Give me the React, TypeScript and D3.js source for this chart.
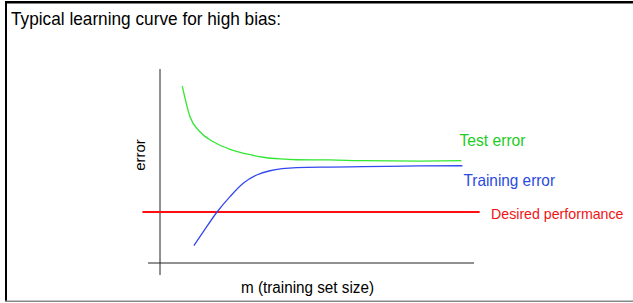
import React from "react";
import * as d3 from "d3";

const W = 633;
const H = 303;

const testM = [7.1, 9.55, 12.7, 17.0, 22.3, 27.6, 32.9, 38.2, 43.5, 54.1, 64.6, 82.8, 96.0];
const testErr = [0.917, 0.758, 0.68, 0.628, 0.589, 0.565, 0.548, 0.539, 0.535, 0.534, 0.53, 0.528, 0.53];

const trainM = [10.8, 13.8, 18.1, 22.3, 26.5, 30.8, 35.0, 43.5, 54.1, 64.6, 82.8, 96.3];
const trainErr = [0.09, 0.162, 0.263, 0.344, 0.413, 0.456, 0.478, 0.494, 0.497, 0.499, 0.503, 0.504];

const desiredM = [-5.6, 101.8];
const desiredErr = [0.264, 0.264];

const title = "Typical learning curve for high bias:";
const xLabel = "m (training set size)";
const yLabel = "error";
const labels = ["Test error", "Training error", "Desired performance"];

const FONT = "'Liberation Sans', Arial, Helvetica, sans-serif";

export default function App() {
  const x = d3.scaleLinear().domain([0, 100]).range([160, 474]);
  const y = d3.scaleLinear().domain([0, 1]).range([263, 70]);

  const line = d3
    .line<[number, number]>()
    .x((d) => x(d[0]))
    .y((d) => y(d[1]))
    .curve(d3.curveMonotoneX);

  const testPts = testM.map((m, i) => [m, testErr[i]] as [number, number]);
  const trainPts = trainM.map((m, i) => [m, trainErr[i]] as [number, number]);
  const desiredPts = desiredM.map((m, i) => [m, desiredErr[i]] as [number, number]);

  return (
    <svg
      width={W}
      height={H}
      style={{ position: "fixed", left: 0, top: 0, background: "#fff" }}
    >
      <rect x={0} y={0} width={W} height={H} fill="#fff" />
      {/* frame */}
      <line x1={5} y1={2.3} x2={W} y2={2.3} stroke="#000" strokeWidth={2.5} />
      <line x1={6} y1={1} x2={6} y2={302} stroke="#000" strokeWidth={2} />
      <line x1={5} y1={301.3} x2={W} y2={301.3} stroke="#888" strokeWidth={1.5} />

      <text
        x={11}
        y={25}
        fontFamily={FONT}
        fontSize={18.5}
        fill="#000"
        textLength={270}
        lengthAdjust="spacingAndGlyphs"
      >
        {title}
      </text>

      {/* axes */}
      <line x1={x(0)} y1={69} x2={x(0)} y2={275} stroke="#222" strokeWidth={1} />
      <line x1={148} y1={y(0)} x2={474} y2={y(0)} stroke="#222" strokeWidth={1} />

      {/* curves */}
      <path d={line(desiredPts) || ""} fill="none" stroke="#ff1010" strokeWidth={2} />
      <path d={line(testPts) || ""} fill="none" stroke="#33e633" strokeWidth={1.3} />
      <path d={line(trainPts) || ""} fill="none" stroke="#3348ee" strokeWidth={1.3} />

      {/* labels */}
      <text x={459.5} y={145.5} fontFamily={FONT} fontSize={16.5} fill="#22cc22" textLength={66} lengthAdjust="spacingAndGlyphs">
        {labels[0]}
      </text>
      <text x={463.5} y={185.5} fontFamily={FONT} fontSize={16.5} fill="#2a4ae0" textLength={91.5} lengthAdjust="spacingAndGlyphs">
        {labels[1]}
      </text>
      <text x={491} y={219} fontFamily={FONT} fontSize={14.2} fill="#f01414">
        {labels[2]}
      </text>

      <text
        transform="translate(145,155) rotate(-90)"
        textAnchor="middle"
        fontFamily={FONT}
        fontSize={15.5}
        fill="#000"
        textLength={31.5}
        lengthAdjust="spacingAndGlyphs"
      >
        {yLabel}
      </text>
      <text
        x={241}
        y={293}
        fontFamily={FONT}
        fontSize={16}
        fill="#000"
        textLength={133}
        lengthAdjust="spacingAndGlyphs"
      >
        {xLabel}
      </text>
    </svg>
  );
}
